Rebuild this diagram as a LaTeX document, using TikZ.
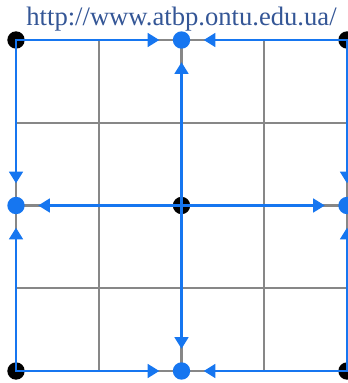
\documentclass[tikz,border=0pt]{standalone}
\usepackage{fontspec}
\setmainfont{Liberation Serif}
\usetikzlibrary{arrows.meta, positioning}
\definecolor{linkblue}{RGB}{52,86,150}
\definecolor{flowblue}{RGB}{22,118,240}
\definecolor{gridgray}{RGB}{135,135,135}

\begin{document}
\begin{tikzpicture}[
  corner/.style={circle, fill=black, inner sep=0pt, minimum size=0.42cm},
  mid/.style={circle, fill=flowblue, inner sep=0pt, minimum size=0.42cm},
  flow/.style={flowblue, line width=1.5pt, line cap=rect, -{Triangle[length=8pt, width=9.5pt]}, shorten >=0.32cm}
]
  \useasboundingbox (-0.387,-0.29) rectangle (8,8.967);
  \draw[gridgray, line width=1.6pt, step=2] (0,0) grid (8,8);

  % grid points
  \node[corner] (tl) at (0,8) {};
  \node[corner] (tr) at (8,8) {};
  \node[corner] (bl) at (0,0) {};
  \node[corner] (br) at (8,0) {};
  \node[corner] (ctr) at (4,4) {};
  \node[mid] (top) at (4,8) {};
  \node[mid] (bot) at (4,0) {};
  \node[mid] (lft) at (0,4) {};
  \node[mid] (rgt) at (8,4) {};

  % edges
  \draw[flow] (tl.center) -- (top);
  \draw[flow] (tr.center) -- (top);
  \draw[flow] (bl.center) -- (bot);
  \draw[flow] (br.center) -- (bot);
  \draw[flow] (tl.center) -- (lft);
  \draw[flow] (bl.center) -- (lft);
  \draw[flow] (tr.center) -- (rgt);
  \draw[flow] (br.center) -- (rgt);
  \foreach \n in {top, bot, lft, rgt}
    \draw[flow] (ctr.center) -- (\n);

  \node[text=linkblue, font=\fontsize{18.3}{21}\selectfont] (url) at (4,8.5) {http://www.atbp.ontu.edu.ua/};
\end{tikzpicture}
\end{document}
